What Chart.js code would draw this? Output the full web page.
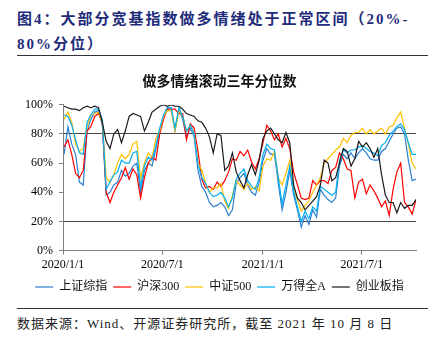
<!DOCTYPE html>
<html>
<head>
<meta charset="utf-8">
<script src="https://cdn.jsdelivr.net/npm/chart.js@4/dist/chart.umd.min.js"></script>
<style>
  body { margin: 0; width: 439px; height: 337px; background: #fff; position: relative; overflow: hidden;
         font-family: 'Liberation Serif', 'Noto Sans CJK SC', serif; }
  #head { position: absolute; left: 17px; top: 7px; width: 420px; color: #1f2c7a; font-weight: bold;
          font-size: 15px; letter-spacing: 2px; line-height: 25px; }
  .rule { position: absolute; left: 17px; width: 411px; height: 0; border-top: 1.5px solid #333; }
  #src { position: absolute; left: 17px; top: 313px; font-size: 13px; letter-spacing: 1px; color: #222; white-space: nowrap; }
  #box { position: absolute; left: 0; top: 60px; width: 439px; height: 243px; }
</style>
</head>
<body>
<div id="head">图4：大部分宽基指数做多情绪处于正常区间（20%-<br>80%分位）</div>
<div class="rule" style="top:55px"></div>
<div id="box"><canvas id="c"></canvas></div>
<div class="rule" style="top:308px"></div>
<div id="src">数据来源：Wind、开源证券研究所，截至 2021 年 10 月 8 日</div>
<script>
// weekly readings, first week ends 2020-01-03
var startDate = '2020-01-03';
var endDate = '2021-10-08';
var seriesNames = ['上证综指', '沪深300', '中证500', '万得全A', '创业板指'];
var seriesColors = ['#2e7fd0', '#ff0000', '#ffc000', '#00b0f0', '#1a1a1a'];
var xTickDates = ['2020-01-01', '2020-07-01', '2021-01-01', '2021-07-01'];
var xTickLabels = ['2020/1/1', '2020/7/1', '2021/1/1', '2021/7/1'];
var yTicks = [0, 20, 40, 60, 80, 100];
var bandLines = [20, 80];

var shzs = [66,85,73,66,47,45,82,90,95,96,86,38,40,45,47,55,51,53,58,60,40,55,60,58,70,82,92,98,98,82,97,90,78,84,78,55,44,40,33,30,31,33,30,24,28,46,50,53,45,40,38,47,62,70,66,66,46,28,40,55,38,28,16,24,18,28,23,42,38,35,33,36,58,66,63,67,63,67,70,67,63,62,62,68,70,75,80,84,85,80,62,48,49];
var hs300 = [71,76,66,53,50,55,82,85,92,94,88,40,33,40,45,50,57,49,56,52,36,50,60,64,62,80,90,97,97,97,94,94,76,87,84,68,49,43,44,42,47,44,48,54,63,62,68,65,69,61,56,63,74,86,82,76,80,71,77,70,54,45,36,35,36,48,45,48,48,46,55,57,67,63,56,55,36,47,49,39,45,41,36,30,34,24,42,54,60,33,30,25,35];
var zz500 = [90,95,88,73,68,70,85,93,94,95,88,50,47,52,60,66,63,66,73,75,50,60,67,64,77,82,92,96,96,82,96,92,82,86,80,60,55,46,40,43,43,46,34,29,38,48,45,42,46,42,44,41,58,63,62,68,50,45,53,62,42,35,27,31,34,40,45,50,60,63,66,69,71,77,74,79,81,81,84,80,83,80,82,84,80,85,86,91,95,84,73,60,56];
var wdqa = [93,92,86,76,67,66,88,93,97,97,90,42,47,52,54,62,60,60,67,68,44,58,64,62,72,84,93,98,98,84,98,92,82,86,80,59,50,46,40,37,38,40,36,30,36,49,53,56,48,44,42,50,66,73,70,69,50,32,45,58,41,30,20,27,22,30,27,44,42,40,38,40,62,69,67,69,69,71,72,70,68,67,65,72,74,79,82,85,87,83,74,66,66];
var cybz = [99,98,97,97,96,98,99,98,99,98,88,75,70,80,83,74,82,92,94,93,92,82,88,95,97,99,100,99,100,99,99,97,94,93,92,89,88,84,78,67,80,79,55,58,67,54,48,43,52,59,52,62,77,82,84,80,76,74,81,74,45,36,33,28,31,34,37,45,62,60,48,50,60,70,68,58,63,75,71,74,70,64,70,52,38,33,33,26,33,29,31,31,35];

var allSeries = [shzs, hs300, zz500, wdqa, cybz];

function dayOf(s) {
  return Math.round((Date.parse(s) - Date.parse('2020-01-01')) / 86400000);
}
var firstDay = dayOf(startDate);

var datasets = allSeries.map(function (vals, k) {
  return {
    label: seriesNames[k],
    data: vals.map(function (v, i) { return { x: firstDay + i * 7, y: v }; }),
    borderColor: seriesColors[k],
    backgroundColor: seriesColors[k],
    borderWidth: 1.2,
    pointRadius: 0,
    tension: 0,
    order: allSeries.length - k
  };
});

var font = "'Liberation Serif', 'Noto Sans CJK SC', serif";

new Chart(document.getElementById('c'), {
  type: 'line',
  data: { datasets: datasets },
  options: {
    responsive: true,
    maintainAspectRatio: false,
    animation: false,
    layout: { padding: { left: 23, right: 23, top: 0, bottom: 0 } },
    plugins: {
      title: {
        display: true,
        text: '做多情绪滚动三年分位数',
        color: '#111',
        font: { family: font, size: 14, weight: 'bold' },
        padding: { top: 14, bottom: 14 }
      },
      legend: {
        position: 'bottom',
        labels: {
          usePointStyle: true,
          pointStyle: 'line',
          pointStyleWidth: 18,
          color: '#111',
          padding: 6,
          font: { family: font, size: 12 },
          sort: function (a, b) { return a.datasetIndex - b.datasetIndex; }
        }
      },
      tooltip: { enabled: false }
    },
    scales: {
      x: {
        type: 'linear',
        min: 0,
        max: dayOf(endDate),
        afterBuildTicks: function (s) {
          s.ticks = xTickDates.map(function (d) { return { value: dayOf(d) }; });
        },
        ticks: {
          autoSkip: false,
          maxRotation: 0,
          padding: 3,
          color: '#000',
          font: { family: font, size: 12 },
          callback: function (v) {
            var i = xTickDates.map(dayOf).indexOf(v);
            return i >= 0 ? xTickLabels[i] : '';
          }
        },
        grid: { drawOnChartArea: false, tickLength: 4, tickColor: '#808080' },
        border: { color: '#808080', width: 1 }
      },
      y: {
        min: 0,
        max: 100,
        afterBuildTicks: function (s) {
          s.ticks = yTicks.map(function (v) { return { value: v }; });
        },
        afterFit: function (s) { s.width = 40; },
        ticks: {
          padding: 6,
          color: '#000',
          font: { family: font, size: 12 },
          callback: function (v) { return v + '%'; }
        },
        grid: {
          color: function (c) { return bandLines.indexOf(c.tick.value) >= 0 ? '#444' : 'rgba(0,0,0,0)'; },
          borderDash: [4, 3],
          lineWidth: 1,
          tickLength: 4,
          tickColor: '#808080',
          tickBorderDash: []
        },
        border: { color: '#808080', width: 1 }
      }
    }
  }
});
</script>
</body>
</html>
